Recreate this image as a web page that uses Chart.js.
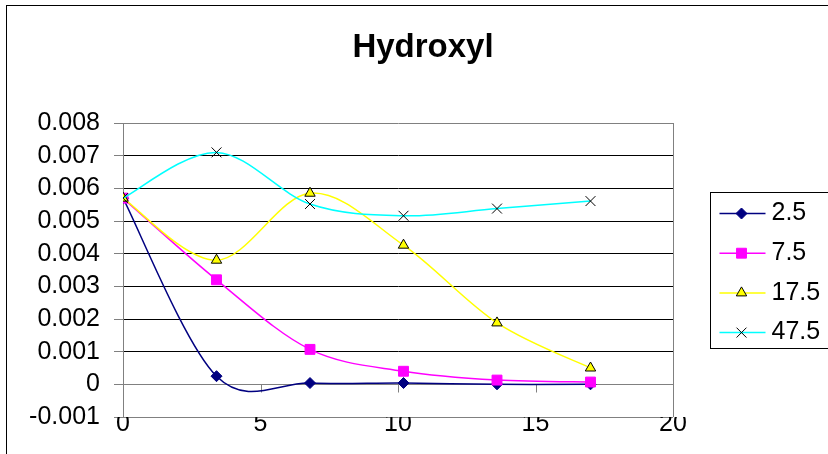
<!DOCTYPE html>
<html>
<head>
<meta charset="utf-8">
<script src="https://cdn.jsdelivr.net/npm/chart.js@4/dist/chart.umd.min.js"></script>
<style>
  html, body { margin: 0; padding: 0; background: #fff; overflow: hidden; }
  #wrap { width: 828px; height: 454px; position: relative; }
</style>
</head>
<body>
<div id="wrap"><canvas id="c" width="828" height="454"></canvas></div>
<script>
// Sampling positions along the x axis
const xValues = [0, 3.4, 6.8, 10.2, 13.6, 17];

// Hydroxyl values, one list per series
const seriesNames = ['2.5', '7.5', '17.5', '47.5'];
const s2_5  = [0.0057, 0.00025, 0.00004, 0.00004, 0.0, 0.0];
const s7_5  = [0.0057, 0.0032, 0.00107, 0.0004, 0.00013, 0.00007];
const s17_5 = [0.0057, 0.0038, 0.00585, 0.00426, 0.00188, 0.0005];
const s47_5 = [0.0057, 0.0071, 0.00552, 0.00516, 0.00538, 0.00561];

// Axis ticks
const yTickValues = [-0.001, 0, 0.001, 0.002, 0.003, 0.004, 0.005, 0.006, 0.007, 0.008];
const yTickLabels = ['-0.001', '0', '0.001', '0.002', '0.003', '0.004', '0.005', '0.006', '0.007', '0.008'];
const xTickValues = [0, 5, 10, 15, 20];
const xTickLabels = ['0', '5', '10', '15', '20'];

const FONT = "'Liberation Sans', Arial, sans-serif";
const AXIS_GRAY = '#808080';

const styles = [
  { line: '#000080', fill: '#000080', border: '#000080', point: 'rectRot', r: 5.5 },
  { line: '#FF00FF', fill: '#FF00FF', border: '#FF00FF', point: 'rect', r: 7 },
  { line: '#FFFF00', fill: '#FFFF00', border: '#000000', point: 'triangle', r: 6 },
  { line: '#00FFFF', fill: '#00FFFF', border: '#000000', point: 'crossRot', r: 7 }
];
const seriesValues = [s2_5, s7_5, s17_5, s47_5];

const datasets = seriesValues.map((vals, i) => ({
  label: seriesNames[i],
  data: xValues.map((x, j) => ({ x: x, y: vals[j] })),
  showLine: true,
  tension: 0.4,
  borderColor: styles[i].line,
  borderWidth: 1.5,
  pointStyle: styles[i].point,
  pointRadius: styles[i].r,
  pointHoverRadius: styles[i].r,
  pointBackgroundColor: styles[i].fill,
  pointBorderColor: styles[i].border,
  pointBorderWidth: 1,
  order: seriesValues.length - 1 - i
}));

// Smoothed lines use uniform Catmull-Rom control points (1/6 of the
// neighbour-to-neighbour span) instead of Chart.js's distance-weighted ones.
const catmullRom = {
  id: 'catmullRom',
  beforeDatasetDraw(chart, args) {
    const meta = args.meta;
    const pts = meta.data;
    const n = pts.length;
    if (!meta.dataset || n < 2) return;
    for (let i = 0; i < n; i++) {
      const prev = pts[Math.max(0, i - 1)];
      const next = pts[Math.min(n - 1, i + 1)];
      const cur = pts[i];
      const dx = (next.x - prev.x) / 6;
      const dy = (next.y - prev.y) / 6;
      cur.cp1x = cur.x - dx;
      cur.cp1y = cur.y - dy;
      cur.cp2x = cur.x + dx;
      cur.cp2y = cur.y + dy;
    }
    meta.dataset._pointsUpdated = true;
  }
};

// Chart frame, plot outline and the x axis that crosses at y = 0
const framePlugin = {
  id: 'frame',
  beforeDraw(chart) {
    const ctx = chart.ctx;
    ctx.save();
    ctx.fillStyle = '#ffffff';
    ctx.fillRect(0, 0, chart.width, chart.height);
    ctx.strokeStyle = '#000000';
    ctx.lineWidth = 1;
    ctx.strokeRect(6.5, 5.5, chart.width + 50, chart.height + 50);
    ctx.restore();
  },
  beforeDatasetsDraw(chart) {
    const ctx = chart.ctx;
    const a = chart.chartArea;
    const xs = chart.scales.x, ys = chart.scales.y;
    ctx.save();
    ctx.strokeStyle = AXIS_GRAY;
    ctx.lineWidth = 1;
    ctx.beginPath();
    const r = Math.round(a.right) + 0.5;
    ctx.moveTo(r, a.top);
    ctx.lineTo(r, a.bottom);
    const y0 = Math.round(ys.getPixelForValue(0)) + 0.5;
    ctx.moveTo(a.left, y0);
    ctx.lineTo(a.right, y0);
    xTickValues.forEach(v => {
      const px = Math.round(xs.getPixelForValue(v)) + 0.5;
      ctx.moveTo(px, y0);
      ctx.lineTo(px, y0 + 8);
    });
    ctx.stroke();
    ctx.restore();
  }
};

// Legend placed to the right of the plot, showing line + marker
const sideLegend = {
  id: 'sideLegend',
  beforeInit(chart) {
    const box = {
      position: 'right',
      weight: 0,
      fullSize: false,
      options: {},
      left: 0, top: 0, right: 0, bottom: 0, width: 0, height: 0,
      isHorizontal() { return false; },
      update(maxWidth, maxHeight) { this.width = 155; this.height = maxHeight; },
      draw() {
        const ctx = chart.ctx;
        const a = chart.chartArea;
        const bx = Math.round(this.left + 37) + 0.5;
        const by = Math.round((a.top + a.bottom) / 2 - 78) + 0.5;
        ctx.save();
        ctx.strokeStyle = '#000000';
        ctx.lineWidth = 1;
        ctx.strokeRect(bx, by, 200, 156);
        chart.data.datasets.forEach((ds, i) => {
          const cy = by + 21 + i * 39.7;
          ctx.strokeStyle = ds.borderColor;
          ctx.lineWidth = 1.5;
          ctx.beginPath();
          ctx.moveTo(bx + 9, cy);
          ctx.lineTo(bx + 55, cy);
          ctx.stroke();
          ctx.fillStyle = ds.pointBackgroundColor;
          ctx.strokeStyle = ds.pointBorderColor;
          ctx.lineWidth = 1;
          Chart.helpers.drawPoint(ctx, { pointStyle: ds.pointStyle, radius: ds.pointRadius, rotation: 0, borderWidth: 1 }, bx + 31, cy);
          ctx.fillStyle = '#000000';
          ctx.font = '25px ' + FONT;
          ctx.textAlign = 'left';
          ctx.textBaseline = 'middle';
          ctx.fillText(ds.label, bx + 61, cy);
        });
        ctx.restore();
      }
    };
    Chart.layouts.addBox(chart, box);
  }
};

const nearly = (a, b) => Math.abs(a - b) < 1e-9;

new Chart(document.getElementById('c'), {
  type: 'scatter',
  data: { datasets },
  plugins: [framePlugin, sideLegend, catmullRom],
  options: {
    responsive: false,
    animation: false,
    devicePixelRatio: 1,
    layout: { padding: { left: 18, right: 0, top: 0, bottom: 0 } },
    plugins: {
      legend: { display: false },
      tooltip: { enabled: false },
      title: {
        display: true,
        text: 'Hydroxyl',
        color: '#000000',
        font: { family: FONT, size: 33, weight: 'bold', lineHeight: 1.2 },
        padding: { top: 28, bottom: 55.4 }
      }
    },
    scales: {
      x: {
        type: 'linear',
        min: 0,
        max: 20,
        afterBuildTicks: s => { s.ticks = xTickValues.map(v => ({ value: v })); },
        afterFit: s => { s.height = 37; },
        ticks: {
          color: '#000000',
          font: { family: FONT, size: 25 },
          padding: -8,
          maxRotation: 0,
          autoSkip: false,
          callback: (v, i) => xTickLabels[i]
        },
        grid: { display: false, drawTicks: false, tickLength: 0 },
        border: { display: false }
      },
      y: {
        type: 'linear',
        min: -0.001,
        max: 0.008,
        afterBuildTicks: s => { s.ticks = yTickValues.map(v => ({ value: v })); },
        afterFit: s => { s.width = 105; },
        ticks: {
          color: '#000000',
          font: { family: FONT, size: 25 },
          padding: 14,
          autoSkip: false,
          callback: (v, i) => yTickLabels[i]
        },
        grid: {
          color: c => (c.tick && (nearly(c.tick.value, 0.008) || nearly(c.tick.value, -0.001) || nearly(c.tick.value, 0))) ? AXIS_GRAY : '#000000',
          lineWidth: 1,
          drawTicks: true,
          tickLength: 9,
          tickColor: AXIS_GRAY
        },
        border: { display: true, color: AXIS_GRAY, width: 1 }
      }
    }
  }
});
</script>
</body>
</html>
